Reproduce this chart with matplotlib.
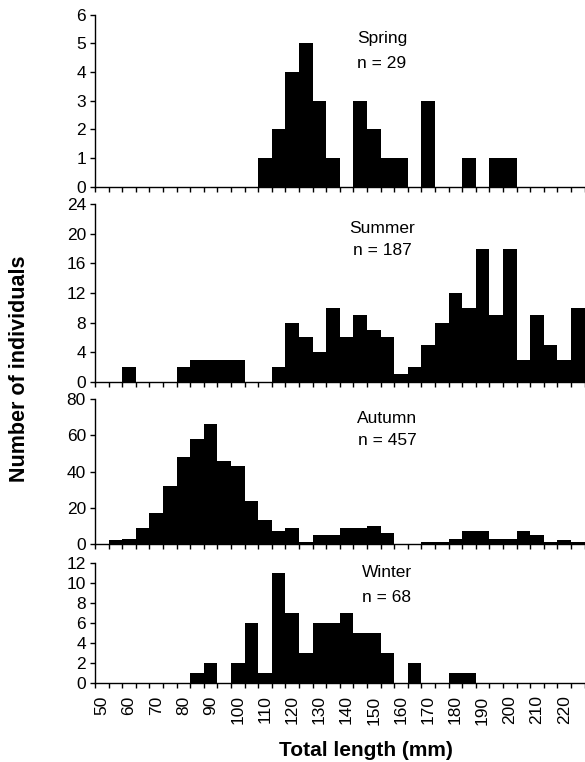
import matplotlib
matplotlib.use("Agg")
import matplotlib.pyplot as plt
from matplotlib.ticker import FixedLocator, NullFormatter

plt.rcParams['font.family'] = ['Liberation Sans', 'DejaVu Sans']

# Bin labels (total length, mm; 5-mm classes)
bins = [50, 55, 60, 65, 70, 75, 80, 85, 90, 95, 100, 105, 110, 115, 120, 125,
        130, 135, 140, 145, 150, 155, 160, 165, 170, 175, 180, 185, 190, 195,
        200, 205, 210, 215, 220, 225]

spring = [0, 0, 0, 0, 0, 0, 0, 0, 0, 0, 0, 0, 1, 2, 4, 5, 3, 1, 0, 3, 2, 1, 1, 0,
          3, 0, 0, 1, 0, 1, 1, 0, 0, 0, 0, 0]
summer = [0, 0, 2, 0, 0, 0, 2, 3, 3, 3, 3, 0, 0, 2, 8, 6, 4, 10, 6, 9, 7, 6, 1, 2,
          5, 8, 12, 10, 18, 9, 18, 3, 9, 5, 3, 10]
autumn = [0, 2, 3, 9, 17, 32, 48, 58, 66, 46, 43, 24, 13, 7, 9, 1, 5, 5, 9, 9, 10,
          6, 0, 0, 1, 1, 3, 7, 7, 3, 3, 7, 5, 1, 2, 1]
winter = [0, 0, 0, 0, 0, 0, 0, 1, 2, 0, 2, 6, 1, 11, 7, 3, 6, 6, 7, 5, 5, 3, 0, 2,
          0, 0, 1, 1, 0, 0, 0, 0, 0, 0, 0, 0]

seasons = ["Spring", "Summer", "Autumn", "Winter"]
counts = ["n = 29", "n = 187", "n = 457", "n = 68"]
series = [spring, summer, autumn, winter]
y_max = [6, 24, 80, 12]
y_step = [1, 4, 20, 2]
x_labels = [50, 60, 70, 80, 90, 100, 110, 120, 130, 140, 150, 160, 170, 180,
            190, 200, 210, 220]

W, H = 585, 762
fig = plt.figure(figsize=(W / 100, H / 100), dpi=100)
fig.patch.set_facecolor('white')

# axes boxes in pixels: (top, bottom)
boxes = [(14.7, 186.7), (204.3, 381.7), (399.0, 544.0), (562.7, 683.0)]
left_px = 95.0
text_pos = [(382, 43.3, 68.3), (382, 232.7, 255.0), (387, 423.3, 445.0),
            (387, 577.3, 601.7)]

bw = bins[1] - bins[0]
x0 = bins[0] - bw / 2
x1 = x0 + (W - left_px) / 2.72

for i, vals in enumerate(series):
    t, b = boxes[i]
    ax = fig.add_axes([left_px / W, 1 - b / H, (W - left_px) / W, (b - t) / H])
    ax.bar(bins, vals, width=bw, color='black', edgecolor='none', align='center')
    ax.set_xlim(x0, x1)
    ax.set_ylim(0, y_max[i])
    ax.set_yticks(list(range(0, y_max[i] + 1, y_step[i])))
    for s in ['top', 'right']:
        ax.spines[s].set_visible(False)
    for s in ['left', 'bottom']:
        ax.spines[s].set_linewidth(1.0)
    ax.tick_params(axis='y', direction='out', length=3.5, width=1.0, pad=3,
                   labelsize=12.5)
    ax.xaxis.set_minor_locator(FixedLocator([bb - bw / 2 for bb in bins] + [bins[-1] + bw / 2]))
    ax.xaxis.set_minor_formatter(NullFormatter())
    ax.tick_params(axis='x', which='minor', direction='out', length=3.5, width=1.0)
    ax.set_xticks(x_labels)
    ax.tick_params(axis='x', which='major', length=0, pad=9, labelsize=12.5)
    if i < 3:
        ax.set_xticklabels([])
    else:
        ax.set_xticklabels([str(v) for v in x_labels], rotation=90, va='top', ha='center')

    cx, y1, y2 = text_pos[i]
    fig.text(cx / W, 1 - y1 / H, seasons[i], ha='center', va='baseline', fontsize=12.5)
    fig.text(cx / W, 1 - y2 / H, counts[i], ha='center', va='baseline', fontsize=12.5)

fig.text(20 / W, 1 - 369 / H, "Number of individuals", rotation=90, ha='center',
         va='center', fontsize=15.5, fontweight='bold')
fig.text(366 / W, 1 - 750 / H, "Total length (mm)", ha='center', va='center',
         fontsize=15, fontweight='bold')

fig.savefig("out.png", dpi=100, facecolor='white')
